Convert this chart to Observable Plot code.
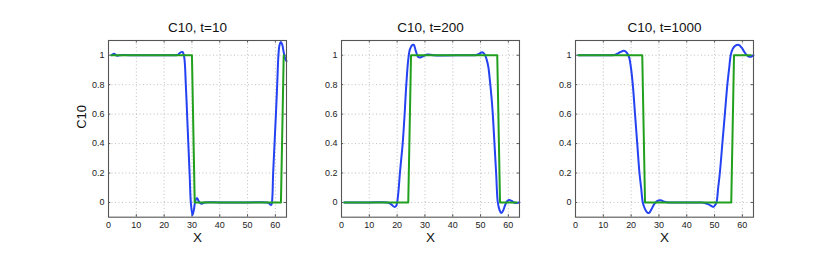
<!DOCTYPE html>
<html><head><meta charset="utf-8">
<script src="https://cdn.jsdelivr.net/npm/d3@7"></script>
<script src="https://cdn.jsdelivr.net/npm/@observablehq/plot@0.6"></script>
<style>
body{margin:0;background:#fff;}
#c{position:relative;width:830px;height:268px;overflow:hidden;background:#fff;}
#c svg{position:absolute;}
</style>
</head><body><div id="c"></div>
<script>
const titles = ["C10, t=10", "C10, t=200", "C10, t=1000"];
const xTicks = [0, 10, 20, 30, 40, 50, 60];
const yTicks = [0, 0.2, 0.4, 0.6, 0.8, 1];
const yTickLabels = ["0", "0.2", "0.4", "0.6", "0.8", "1"];
const yLabel = "C10";
const xLabel = "X";

// numerical solution (blue), t=10
const num10X = [1, 2, 3, 4, 10, 20, 24, 25, 25.8, 26.6, 27.2, 27.8, 28.3, 28.7, 29.2, 29.6, 30.2, 30.7, 31.2, 31.8, 32.4, 33.0, 33.6, 34.5, 40, 50, 57, 57.7, 58.3, 58.6, 58.9, 59.2, 59.7, 60.2, 60.7, 61.1, 61.5, 62.0, 62.5, 63.0, 63.5, 64];
const num10Y = [1.0, 1.01, 0.997, 1.0, 1.0, 1.0, 1.0, 1.003, 1.018, 1.022, 0.99, 0.8, 0.58, 0.4, 0.18, 0.0, -0.086, -0.05, 0.01, 0.03, 0.01, -0.005, -0.008, 0, 0, 0, 0, -0.005, -0.016, -0.015, 0.03, 0.2, 0.4, 0.6, 0.82, 1.0, 1.07, 1.09, 1.07, 1.02, 0.98, 0.96];
// exact solution (green), t=10
const ex10X = [1, 30, 31, 62, 63];
const ex10Y = [1, 1, 0, 0, 1];

// t=200
const num200X = [1, 10, 16.5, 17, 18, 19, 19.6, 20, 20.5, 21, 21.5, 22, 22.7, 23.3, 24, 24.6, 25.5, 26, 26.7, 27.5, 28.3, 29.5, 31, 33, 45, 48, 49, 50, 50.6, 51.5, 52.2, 52.8, 53.4, 54, 54.4, 55, 55.6, 56.2, 56.8, 57.4, 58, 58.8, 59.6, 60.4, 61.2, 62, 63, 64];
const num200Y = [0, 0, 0, -0.003, -0.015, -0.03, -0.025, 0.0, 0.08, 0.2, 0.3, 0.4, 0.6, 0.8, 0.97, 1.04, 1.07, 1.07, 1.03, 0.99, 0.985, 0.995, 1.005, 1.0, 1.0, 1.0, 1.005, 1.015, 1.02, 1.005, 0.97, 0.92, 0.82, 0.7, 0.6, 0.4, 0.2, 0.0, -0.05, -0.072, -0.06, -0.02, 0.01, 0.016, 0.01, 0.0, -0.003, 0];
const ex200X = [1, 24, 25, 56, 57, 63];
const ex200Y = [0, 0, 1, 1, 0, 0];

// t=1000
const num1000X = [1, 10, 14, 15, 16, 17.4, 18.3, 19.2, 19.9, 20.6, 21.4, 22.2, 23.0, 23.6, 24.2, 25, 25.8, 26.4, 27.2, 28.2, 29.3, 30.6, 32, 33.5, 45, 46.5, 48, 49.6, 50.2, 50.7, 51.3, 51.9, 52.8, 53.7, 54.6, 55.3, 55.8, 56.6, 57.5, 58.7, 59.8, 60.8, 61.6, 62.4, 63.2, 64];
const num1000Y = [1.0, 1.0, 1.002, 1.01, 1.02, 1.03, 1.02, 0.99, 0.92, 0.8, 0.6, 0.4, 0.2, 0.1, 0.0, -0.045, -0.068, -0.072, -0.05, -0.015, 0.01, 0.015, 0.005, 0, 0, -0.003, -0.015, -0.03, -0.018, 0.0, 0.1, 0.2, 0.4, 0.6, 0.8, 0.92, 1.0, 1.045, 1.065, 1.07, 1.05, 1.02, 1.0, 0.99, 0.99, 1.0];
const ex1000X = [1, 24, 25, 56, 57, 63];
const ex1000Y = [1, 1, 0, 0, 1, 1];

const blue = "#2442f2";
const green = "#21a01e";
const font = "'Liberation Sans', Arial, Helvetica, sans-serif";

const panels = [
  {title: titles[0], nx: num10X, ny: num10Y, ex: ex10X, ey: ex10Y, left: 107.7, ylab: true},
  {title: titles[1], nx: num200X, ny: num200Y, ex: ex200X, ey: ex200Y, left: 341.3, ylab: false},
  {title: titles[2], nx: num1000X, ny: num1000Y, ex: ex1000X, ey: ex1000Y, left: 575, ylab: false}
];

const ml = 40, mr = 12, mt = 38, mb = 42;
const fw = 178, fh = 176.7, frameTop = 40.3;
const container = document.getElementById("c");

for (const p of panels) {
  const num = d3.zip(p.nx, p.ny).map(([x, y]) => ({x, y}));
  const ex = d3.zip(p.ex, p.ey).map(([x, y]) => ({x, y}));
  const marks = [
    Plot.gridX(xTicks.slice(1), {stroke: "#b0b0b0", strokeOpacity: 1, strokeWidth: 0.8, strokeDasharray: "1,2.5"}),
    Plot.gridY(yTicks, {stroke: "#b0b0b0", strokeOpacity: 1, strokeWidth: 0.8, strokeDasharray: "1,2.5"}),
    Plot.axisX(xTicks, {tickSize: 0, tickPadding: 4, fontSize: 9, label: null, fill: "#222"}),
    Plot.axisY(yTicks, {tickSize: 0, tickPadding: 4, fontSize: 9, label: null, fill: "#222",
      tickFormat: d => yTickLabels[yTicks.indexOf(d)]}),
    Plot.ruleX(xTicks.slice(1), {y1: -0.1, y2: -0.083, stroke: "#555"}),
    Plot.ruleX(xTicks.slice(1), {y1: 1.083, y2: 1.1, stroke: "#555"}),
    Plot.ruleY(yTicks, {x1: 0, x2: 0.8, stroke: "#555"}),
    Plot.ruleY(yTicks, {x1: 63.2, x2: 64, stroke: "#555"}),
    Plot.line(num, {x: "x", y: "y", stroke: blue, strokeWidth: 2, curve: "catmull-rom"}),
    Plot.line(ex, {x: "x", y: "y", stroke: green, strokeWidth: 2}),
    Plot.frame({stroke: "#555", strokeWidth: 1.1}),
    Plot.text([p.title], {frameAnchor: "top", dy: -12.5, lineAnchor: "middle", fontSize: 13.5, fill: "#111"}),
    Plot.text([xLabel], {frameAnchor: "bottom", dy: 20, lineAnchor: "middle", fontSize: 13.5, fill: "#111"})
  ];
  if (p.ylab) {
    marks.push(Plot.text([yLabel], {frameAnchor: "left", dx: -26.5, rotate: -90, lineAnchor: "middle", fontSize: 13, fill: "#111"}));
  }
  const chart = Plot.plot({
    width: ml + fw + mr,
    height: mt + fh + mb,
    marginLeft: ml, marginRight: mr, marginTop: mt, marginBottom: mb,
    style: {fontFamily: font, background: "transparent", overflow: "visible"},
    x: {domain: [0, 64]},
    y: {domain: [-0.1, 1.1]},
    marks
  });
  chart.style.left = (p.left - ml) + "px";
  chart.style.top = (frameTop - mt) + "px";
  container.appendChild(chart);
}
</script>
</body></html>
